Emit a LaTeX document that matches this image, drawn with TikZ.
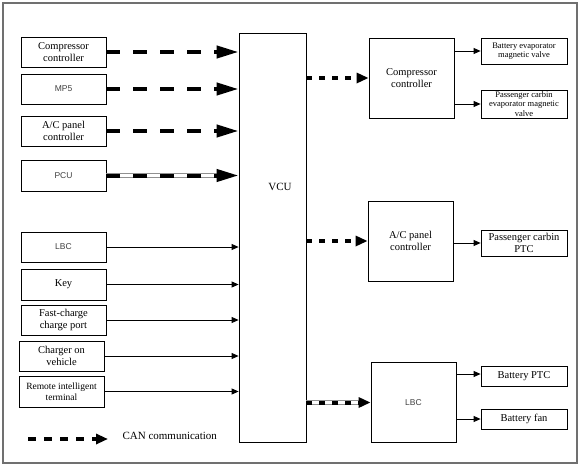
\documentclass[tikz,border=0pt]{standalone}
\usepackage{fontspec}
\setmainfont{Liberation Serif}
\setsansfont{Liberation Sans}
\usetikzlibrary{arrows.meta,positioning,calc}
\definecolor{framegray}{HTML}{707070}
\definecolor{gapgray}{HTML}{909090}
\definecolor{sftext}{HTML}{404040}

\begin{document}
\begin{tikzpicture}[x=1pt,y=-1pt,
    box/.style   = {rectangle,draw=black,line width=0.8pt,fill=white,align=center,
                    inner sep=0pt,font=\fontsize{10.5}{12}\selectfont},
    lbox/.style  = {box,minimum width=85pt,minimum height=30pt},
    cbox/.style  = {box,minimum width=85pt,minimum height=80pt},
    rbox/.style  = {box,minimum width=86pt,minimum height=26pt},
    sf/.style    = {font=\fontsize{8.5}{10}\sffamily,text=sftext},
    tiny/.style  = {font=\fontsize{8.5}{9.6}\selectfont},
    lab/.style   = {font=\fontsize{11}{13}\selectfont},
    can/.style   = {line width=4pt,dash pattern=on 14pt off 13pt,
                    -{Triangle[length=22pt,width=12pt]},
                    preaction={draw=gapgray,double=white,double distance=3.4pt,
                               line width=0.7pt,solid,-,shorten >=18pt}},
    cans/.style  = {line width=4pt,dash pattern=on 6pt off 7pt,
                    -{Triangle[length=12pt,width=10pt]},
                    preaction={draw=gapgray,double=white,double distance=3.4pt,
                               line width=0.7pt,solid,-,shorten >=9pt}},
    fl/.style    = {-{Triangle[length=7pt,width=6pt]},line width=0.8pt},
  ]
  \useasboundingbox (0,0) rectangle (581,466);
  \draw[framegray,line width=1.2pt] (3,3) rectangle (577,463);

  \node[box,minimum width=67pt,minimum height=409pt] (vcu) at (272.5,237.5) {};
  \node[lab] (vcutxt) at (280,187) {VCU};

  % Inputs
  \node[lbox] (compin)  at (63.5,52)    {Compressor\\ controller};
  \node[lbox,sf] (mp5)  at (63.5,89)    {MP5};
  \node[lbox] (acpin)   at (63.5,131)   {A/C panel\\ controller};
  \node[lbox,sf,minimum height=31pt] (pcu) at (63.5,175.5) {PCU};
  \node[lbox,sf] (lbcin) at (63.5,247)  {LBC};
  \node[lbox,minimum height=31pt] (key) at (63.5,284.5) {Key};
  \node[lbox] (fast)    at (63.5,320)   {Fast-charge\\ charge port};
  \node[lbox] (charger) at (61.5,356)   {Charger on\\ vehicle};
  \node[lbox,minimum height=31pt,font=\fontsize{9.5}{11.5}\selectfont]
        (remote) at (61.5,391.5) {Remote intelligent\\ terminal};

  \draw[can] (compin.east) -- (compin.east -| vcu.west);
  \draw[can] (mp5.east)    -- (mp5.east -| vcu.west);
  \draw[can] (acpin.east)  -- (acpin.east -| vcu.west);
  \draw[can] (pcu.east)    -- (pcu.east -| vcu.west);

  \draw[fl] (lbcin.east)   -- (lbcin.east -| vcu.west);
  \draw[fl] (key.east)     -- (key.east -| vcu.west);
  \draw[fl] (fast.east)    -- (fast.east -| vcu.west);
  \draw[fl] (charger.east) -- (charger.east -| vcu.west);
  \draw[fl] (remote.east)  -- (remote.east -| vcu.west);

  % Controlled units
  \node[cbox] (compout) at (411.5,78)   {Compressor\\ controller};
  \node[cbox] (acpout)  at (410.5,241)  {A/C panel\\ controller};
  \node[cbox,sf] (lbcout) at (413.5,402.5) {LBC};

  \draw[cans] (vcu.east |- compout.west) -- (compout.west);
  \draw[cans] (vcu.east |- acpout.west)  -- (acpout.west);
  \draw[cans] (vcu.east |- lbcout.west)  -- (lbcout.west);

  % Actuators
  \node[rbox,tiny] (bev) at (524,51)  {Battery evaporator\\ magnetic valve};
  \node[rbox,tiny,minimum height=28pt] (pev) at (524,104)
        {Passenger carbin\\ evaporator magnetic\\ valve};
  \node[rbox] (pptc)  at (524,243)    {Passenger carbin\\ PTC};
  \node[rbox,minimum height=20pt] (bptc) at (524,376) {Battery PTC};
  \node[rbox,minimum height=20pt] (bfan) at (524,419) {Battery fan};

  \draw[fl] (bev.west -| compout.east)  -- (bev.west);
  \draw[fl] (pev.west -| compout.east)  -- (pev.west);
  \draw[fl] (pptc.west -| acpout.east)  -- (pptc.west);
  \draw[fl] ([yshift=2pt]bptc.west -| lbcout.east) -- ([yshift=2pt]bptc.west);
  \draw[fl] (bfan.west -| lbcout.east)  -- (bfan.west);

  % Legend
  \coordinate (legs) at (28,439);
  \coordinate (lege) at (108,439);
  \draw[cans,dash pattern=on 8pt off 8pt] (legs) -- (lege);
  \node[lab,anchor=west] (cantxt) at (119,436) {CAN communication};
\end{tikzpicture}
\end{document}
